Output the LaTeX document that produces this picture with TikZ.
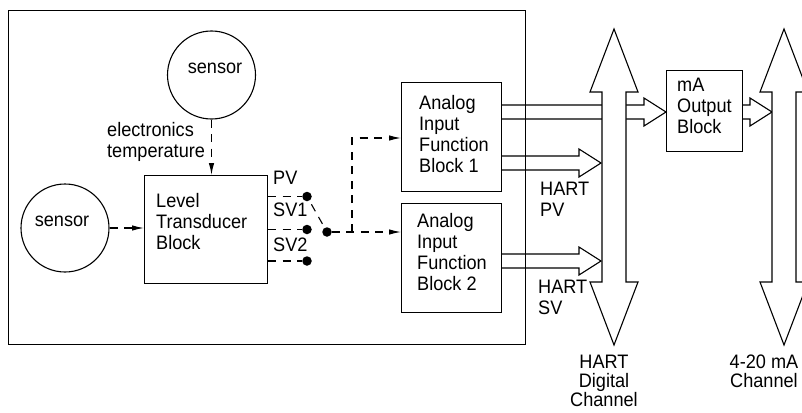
\documentclass[tikz,border=0pt]{standalone}
\usepackage{fontspec}
\setmainfont[FakeStretch=0.93]{Liberation Sans}
\usetikzlibrary{arrows.meta,calc}
\newcommand{\harrow}[2]{\draw[ln] ($(#1)+(0,-7)$) -- ($(#2)+(-22,-7)$) -- ($(#2)+(-22,-14)$) -- (#2) -- ($(#2)+(-22,14)$) -- ($(#2)+(-22,7)$) -- ($(#1)+(0,7)$);}
\begin{document}
\begin{tikzpicture}[x=1pt,y=-1pt,
  every node/.style={inner sep=0pt, font=\fontsize{19.5}{21}\selectfont},
  ln/.style={line width=1.1pt},
  boxnode/.style={draw, line width=1.1pt, anchor=north west},
  sensorc/.style={draw, line width=1.1pt, circle, minimum size=88pt},
  dot/.style={circle, fill, minimum size=9.5pt},
  dsh/.style={line width=1.1pt, dash pattern=on 8pt off 6.5pt},
  tip/.style={-{Latex[length=12pt,width=5.5pt]}},
  txt/.style={anchor=north west, align=left},
  btxt/.style={anchor=north, align=center, font=\fontsize{19.5}{19}\selectfont}]
\useasboundingbox (0,0) rectangle (802,412);
\clip (0,0) rectangle (802,412);
% main box
\node[boxnode, minimum width=517pt, minimum height=334pt] (main) at (8,10) {};
% sensors
\node[sensorc] (s1) at (211.5,75) {};
\node[anchor=base] (s1t) at (215,74) {sensor};
\node[sensorc] (s2) at (65,228) {};
\node[anchor=base] (s2t) at (62,226) {sensor};
% level transducer block
\node[boxnode, minimum width=123pt, minimum height=108pt] (ltb) at (144,175) {};
\node[txt] (ltbt) at (156,193) {Level\\Transducer\\Block};
\node[txt] (et) at (107,122) {electronics\\temperature};
% connectors into LTB
\draw[dsh,tip] (s1.south) -- (s1.south |- ltb.north);
\draw[dsh,tip] (s2.east) -- (ltb.west |- s2.east);
% outputs
\node[dot] (d1) at (307,196.5) {};
\node[dot] (d2) at (307,229.5) {};
\node[dot] (d3) at (307,261) {};
\node[txt] (pv) at (273,171) {PV};
\node[txt] (sv1) at (273,203) {SV1};
\node[txt] (sv2) at (273,238) {SV2};
\draw[dsh] (ltb.east |- d1) -- (d1);
\draw[dsh] (ltb.east |- d2) -- (d2);
\draw[dsh] (ltb.east |- d3) -- (d3);
\node[dot] (dp) at (327,232) {};
\draw[dsh, shorten <=4pt, shorten >=4pt] (d1) -- (dp);
% analog input blocks
\node[boxnode, minimum width=100pt, minimum height=109pt] (ai1) at (401,82) {};
\node[boxnode, minimum width=100pt, minimum height=109pt] (ai2) at (401,203) {};
\node[txt] (ai1t) at (419,95) {Analog\\Input\\Function\\Block 1};
\node[txt] (ai2t) at (417,213) {Analog\\Input\\Function\\Block 2};
\coordinate (br) at (352,232);
\coordinate (y138) at (0,138);
\draw[dsh,tip] (dp) -- (ai2.west |- dp);
\draw[dsh,tip] (br) |- (ai1.west |- y138);
% mA output block
\node[boxnode, minimum width=76pt, minimum height=81pt] (ma) at (666,70) {};
\node[txt] (mat) at (677,78) {mA\\Output\\Block};
% hollow arrows
\coordinate (yA) at (0,112);
\coordinate (yB) at (0,163);
\coordinate (yC) at (0,261);
\coordinate (busL) at (601,0);
\coordinate (bus2L) at (772,0);
\path (ai1.east |- yA) coordinate (aS);
\path (ma.west |- yA) coordinate (aE);
\path (ai1.east |- yB) coordinate (bS);
\path (busL |- yB) coordinate (bE);
\path (ai2.east |- yC) coordinate (cS);
\path (busL |- yC) coordinate (cE);
\path (ma.east |- yA) coordinate (dS);
\path (bus2L |- yA) coordinate (dE);
\harrow{aS}{aE}
\harrow{bS}{bE}
\harrow{cS}{cE}
\harrow{dS}{dE}
% buses
\draw[ln, fill=white] (614,29) -- (638,92) -- (626,92) -- (626,282) -- (638,282) -- (614,345) -- (590,282) -- (602,282) -- (602,92) -- (590,92) -- cycle;
\draw[ln, fill=white] (784,29) -- (808,92) -- (796,92) -- (796,282) -- (808,282) -- (784,345) -- (760,282) -- (772,282) -- (772,92) -- (760,92) -- cycle;
% labels
\node[txt] (hpv) at (540,182) {HART\\PV};
\node[txt] (hsv) at (538,280) {HART\\SV};
\node[btxt] (hdc) at (604,355) {HART\\Digital\\Channel};
\node[btxt] (mac) at (764,355) {4-20 mA\\Channel};
\end{tikzpicture}
\end{document}
